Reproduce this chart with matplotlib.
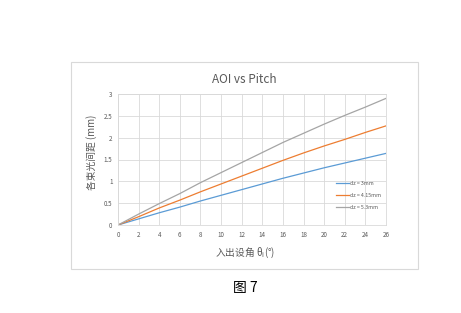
import matplotlib
matplotlib.use('Agg')
import matplotlib.pyplot as plt
from matplotlib.patches import Rectangle

plt.rcParams['font.family'] = ['Noto Sans CJK SC', 'DejaVu Sans']

# incidence angle (deg)
angles = [0, 2, 4, 6, 8, 10, 12, 14, 16, 18, 20, 22, 24, 26]
# beam spacing (mm) for each dz
pitch_3 = [0, 0.14, 0.28, 0.41, 0.55, 0.68, 0.81, 0.94, 1.07, 1.19, 1.31, 1.42, 1.53, 1.64]
pitch_415 = [0, 0.19, 0.39, 0.57, 0.76, 0.94, 1.12, 1.30, 1.48, 1.65, 1.81, 1.96, 2.12, 2.27]
pitch_53 = [0, 0.25, 0.49, 0.72, 0.97, 1.20, 1.43, 1.66, 1.89, 2.10, 2.31, 2.51, 2.70, 2.90]
labels = ['dz = 3mm', 'dz = 4.15mm', 'dz = 5.3mm']
x_ticks = list(range(0, 27, 2))
y_ticks = [0, 0.5, 1, 1.5, 2, 2.5, 3]
y_ticklabels = ['0', '0.5', '1', '1.5', '2', '2.5', '3']

W, H = 461, 313
fig = plt.figure(figsize=(W / 100, H / 100), dpi=100)
fig.patch.set_facecolor('white')

# chart frame
fig.patches.append(Rectangle((71 / W, 1 - 269 / H), (418 - 71) / W, (269 - 62) / H,
                             transform=fig.transFigure, fill=False,
                             edgecolor='#d9d9d9', linewidth=0.8))

ax = fig.add_axes([118 / W, 1 - 225 / H, (386 - 118) / W, (225 - 94) / H])
ax.plot(angles, pitch_3, color='#5b9bd5', linewidth=0.9, label=labels[0])
ax.plot(angles, pitch_415, color='#ed7d31', linewidth=0.9, label=labels[1])
ax.plot(angles, pitch_53, color='#a5a5a5', linewidth=0.9, label=labels[2])

ax.set_xlim(0, 26)
ax.set_ylim(0, 3)
ax.set_xticks(x_ticks)
ax.set_yticks(y_ticks)
ax.set_yticklabels(y_ticklabels)
ax.tick_params(length=0, labelsize=4.5, labelcolor='#595959', pad=4)
ax.grid(True, color='#d9d9d9', linewidth=0.6)
ax.set_axisbelow(True)
for s in ax.spines.values():
    s.set_color('#d9d9d9')
    s.set_linewidth(0.6)

fig.text(244 / W, 1 - 79 / H, 'AOI vs Pitch', ha='center', va='center',
         fontsize=8.5, color='#595959')
fig.text(245 / W, 1 - 253 / H, '入出设角 θ$_{\\mathrm{i}}$(°)', ha='center', va='center',
         fontsize=7, color='#595959')
fig.text(92 / W, 1 - 152 / H, '各束光间距 (mm)', ha='center', va='center',
         rotation=90, fontsize=7, color='#595959')

ax.legend(loc='lower right', bbox_to_anchor=(1.0, 0.08), frameon=False,
          fontsize=3.8, labelcolor='#595959', handlelength=2.4,
          handletextpad=0.3, labelspacing=1.3)

fig.text(245 / W, 1 - 288 / H, '图 7', ha='center', va='center',
         fontsize=10, color='black')

fig.savefig('out.png', dpi=100)
